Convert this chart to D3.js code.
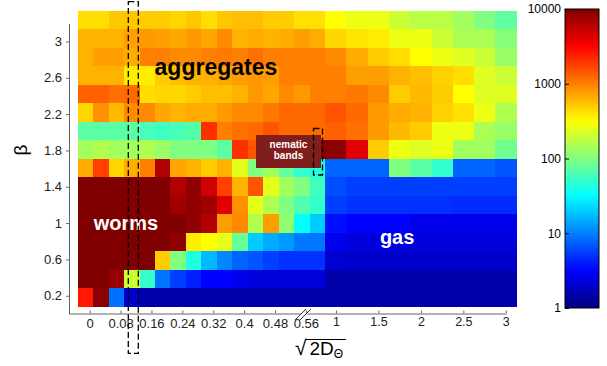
<!DOCTYPE html>
<html>
<head>
<meta charset="utf-8">
<script src="https://cdn.jsdelivr.net/npm/d3@7"></script>
<style>
  body { margin: 0; background: #fff; }
  svg { display: block; font-family: "Liberation Sans", Arial, Helvetica, sans-serif; }
</style>
</head>
<body>
<svg id="chart" width="607" height="366"></svg>
<script>
// rows, top to bottom
const betas = [3.2, 3.0, 2.8, 2.6, 2.4, 2.2, 2.0, 1.8, 1.6, 1.4, 1.2, 1.0, 0.8, 0.6, 0.4, 0.2];
// columns left of the axis break, then right of it
const dLeft = [0, 0.04, 0.08, 0.12, 0.16, 0.2, 0.24, 0.28, 0.32, 0.36, 0.4, 0.44, 0.48, 0.52, 0.56, 0.6];
const dRight = [1, 1.25, 1.5, 1.75, 2, 2.25, 2.5, 2.75, 3];

// counts per cell: 16 left columns then 9 right columns, one line per beta
const counts = [
  [427,427,525,525,501,501,457,525,427,525,562,562,501,501,417,417, 316,270,270,200,170,170,135,100,75],
  [631,631,631,759,794,759,708,794,708,912,631,676,631,676,759,676, 457,398,372,270,270,200,148,148,107],
  [631,759,759,676,1000,1000,912,912,1000,1072,1000,1148,1000,1000,1000,1000, 912,676,501,427,316,270,235,200,126],
  [631,631,631,372,372,501,562,631,631,708,759,794,759,1000,1000,1000, 1000,759,759,631,562,479,427,235,200],
  [1318,1318,1148,1215,427,457,457,501,562,562,631,794,708,912,794,1000, 1000,1072,912,501,589,501,316,235,235],
  [457,861,589,912,912,708,631,676,676,794,912,912,1072,1215,1215,1215, 1479,1215,794,676,631,479,417,270,155],
  [71,71,71,71,59,56,59,68,2042,1000,1148,1215,1479,1215,1215,1215, 1318,1148,794,589,501,270,270,148,126],
  [135,155,135,135,155,126,100,100,100,71,2042,1479,3162,5000,8000,9040, 9040,4169,501,270,235,270,135,135,87],
  [676,1778,457,676,1000,6457,708,631,501,631,251,100,135,75,49,42, 7.9,7.9,7.9,100,71,49,7.9,7.9,6.8],
  [10000,10000,10000,10000,10000,10000,6457,8630,4842,1778,631,1479,251,135,100,56, 6.4,5.6,5.6,5.6,5.6,5.6,5.6,5.6,5.6],
  [10000,10000,10000,10000,10000,10000,7413,8630,7413,4169,861,251,155,100,65,49, 5.6,4.9,4.9,4.9,4.9,4.9,4.7,4.7,4.7],
  [10000,10000,10000,10000,10000,10000,10000,8630,6457,759,912,155,759,116,32,20, 3.6,3.2,3.2,3.2,2.7,2.7,2.7,2.7,2.7],
  [10000,10000,10000,10000,10000,10000,8630,372,316,251,79,20,15,12.6,9.3,9.3, 2.7,2.3,2.3,2.3,2.3,2.3,2.3,2.3,2.3],
  [10000,10000,10000,10000,10000,501,100,42,17,10.7,7.9,6.8,5.6,4.9,4.9,4.9, 2.07,2,2,2,2,2,2,2,2],
  [10000,10000,7943,200,50,9,5.6,4.2,3.2,3.2,2.7,2.3,2.3,2.3,2.3,2.3, 1.48,1.48,1.48,1.48,1.48,1.48,1.48,1.48,1.48],
  [2512,9040,8.7,2,1.48,1.48,1.48,1.48,1.48,1.48,1.48,1.48,1.48,1.48,1.48,1.48, 1.48,1.48,1.48,1.48,1.48,1.48,1.48,1.48,1.48]
];

const yTicks = [0.2, 0.6, 1, 1.4, 1.8, 2.2, 2.6, 3];
const xTicksLeft = [0, 0.08, 0.16, 0.24, 0.32, 0.4, 0.48, 0.56];
const xTicksRight = [1, 1.5, 2, 2.5, 3];
const cbTicks = [1, 10, 100, 1000, 10000];

// matlab style jet colormap
function jet(t) {
  const c = v => Math.max(0, Math.min(1, v));
  const r = c(Math.min(4 * t - 1.5, -4 * t + 4.5));
  const g = c(Math.min(4 * t - 0.5, -4 * t + 3.5));
  const b = c(Math.min(4 * t + 0.5, -4 * t + 2.5));
  return d3.rgb(r * 255, g * 255, b * 255).formatHex();
}

const svg = d3.select('#chart');
const font = '"Liberation Sans", Arial, Helvetica, sans-serif';

const colorT = d3.scaleLog().domain([1, 10000]).range([0, 1]).clamp(true);
const color = v => jet(colorT(v));

// cell scales
const xBandL = d3.scaleBand().domain(dLeft).range([77.7, 325]);
const xBandR = d3.scaleBand().domain(dRight).range([325, 516.7]);
const yBand = d3.scaleBand().domain(betas).range([11, 306.7]);

// axis scales
const yAxisScale = d3.scaleLinear().domain([0, 3.2]).range([313.9, 23.3]);
const xL = d3.scaleLinear().domain([-0.0536, 0.5461]).range([69, 300.5]);
const xR = d3.scaleLinear().domain([0.6584, 3]).range([307, 505.8]);

const cells = [];
betas.forEach((b, i) => {
  dLeft.forEach((d, j) => cells.push({ beta: b, x: xBandL(d), w: xBandL.bandwidth(), v: counts[i][j] }));
  dRight.forEach((d, j) => cells.push({ beta: b, x: xBandR(d), w: xBandR.bandwidth(), v: counts[i][dLeft.length + j] }));
});

svg.append('g')
  .attr('shape-rendering', 'crispEdges')
  .selectAll('rect')
  .data(cells)
  .join('rect')
    .attr('x', d => d.x)
    .attr('y', d => yBand(d.beta))
    .attr('width', d => d.w + 0.4)
    .attr('height', yBand.bandwidth() + 0.4)
    .attr('fill', d => color(d.v));

// region labels
function regionLabel(text, x, y, size, fill) {
  svg.append('text')
    .attr('x', x).attr('y', y)
    .attr('text-anchor', 'middle')
    .attr('font-size', size)
    .attr('font-weight', 700)
    .attr('fill', fill)
    .text(text);
}
regionLabel('aggregates', xL(0.327), yAxisScale(2.63), 23, '#000');
regionLabel('worms', xL(0.094), yAxisScale(0.925), 20, '#fff');
regionLabel('gas', xR(1.72), yAxisScale(0.77), 20, '#fff');

// nematic bands tag
const nb = svg.append('g');
nb.append('rect')
  .attr('x', 256).attr('y', 135).attr('width', 65).attr('height', 33)
  .attr('fill', '#801d1d');
nb.append('text')
  .attr('x', 288.5).attr('y', 148.3)
  .attr('text-anchor', 'middle')
  .attr('font-size', 10).attr('font-weight', 700).attr('fill', '#fff')
  .text('nematic');
nb.append('text')
  .attr('x', 288.5).attr('y', 159.3)
  .attr('text-anchor', 'middle')
  .attr('font-size', 10).attr('font-weight', 700).attr('fill', '#fff')
  .text('bands');

// dashed boxes
svg.append('rect')
  .attr('x', 128.3).attr('y', 1.7).attr('width', 10).attr('height', 351.6)
  .attr('fill', 'none').attr('stroke', '#000').attr('stroke-width', 1.3)
  .attr('stroke-dasharray', '6,3');
svg.append('rect')
  .attr('x', 313.5).attr('y', 128.5).attr('width', 9).attr('height', 46.5)
  .attr('fill', 'none').attr('stroke', '#000').attr('stroke-width', 1.3)
  .attr('stroke-dasharray', '6,3');

// axes
function styleAxis(g) {
  g.select('.domain').attr('stroke', '#666');
  g.selectAll('.tick line').attr('stroke', '#666');
  g.selectAll('.tick text').attr('fill', '#222').attr('font-family', font);
}

svg.append('g')
  .attr('transform', 'translate(69,0)')
  .call(d3.axisLeft(yAxisScale).tickValues(yTicks).tickFormat(String)
    .tickSizeInner(3).tickSizeOuter(0).tickPadding(4))
  .attr('font-size', 13)
  .call(styleAxis);

svg.append('g')
  .attr('transform', 'translate(0,313.5)')
  .call(d3.axisBottom(xL).tickValues(xTicksLeft).tickFormat(String)
    .tickSizeInner(-3).tickSizeOuter(0).tickPadding(5))
  .attr('font-size', 13)
  .call(styleAxis);

svg.append('g')
  .attr('transform', 'translate(0,313.5)')
  .call(d3.axisBottom(xR).tickValues(xTicksRight).tickFormat(String)
    .tickSizeInner(-3).tickSizeOuter(0).tickPadding(4))
  .attr('font-size', 12.5)
  .call(styleAxis);

// axis break marks
svg.append('g')
  .attr('stroke', '#333').attr('stroke-width', 1)
  .selectAll('line')
  .data([0, 5])
  .join('line')
    .attr('x1', d => 295 + d).attr('y1', 320)
    .attr('x2', d => 306 + d).attr('y2', 309);

// axis titles
svg.append('text')
  .attr('transform', 'translate(27,150) rotate(-90)')
  .attr('text-anchor', 'middle')
  .attr('font-size', 19)
  .attr('fill', '#000')
  .text('β');

const xt = svg.append('g');
xt.append('text')
  .attr('x', 295).attr('y', 355)
  .attr('font-size', 21).attr('fill', '#000')
  .text('√');
xt.append('line')
  .attr('x1', 306).attr('x2', 346).attr('y1', 339.5).attr('y2', 339.5)
  .attr('stroke', '#000').attr('stroke-width', 1.1);
const xtt = xt.append('text')
  .attr('x', 309.5).attr('y', 354.5)
  .attr('font-size', 19).attr('fill', '#000');
xtt.append('tspan').text('2D');
xtt.append('tspan').attr('font-size', 12).attr('dy', 3).text('Θ');

// colorbar
const cbX = 565, cbW = 34;
const cbScale = d3.scaleLog().domain([1, 10000]).range([308, 9]);
const grad = svg.append('defs').append('linearGradient')
  .attr('id', 'jetgrad').attr('x1', 0).attr('y1', 1).attr('x2', 0).attr('y2', 0);
grad.selectAll('stop')
  .data(d3.range(0, 1.0001, 0.02))
  .join('stop')
    .attr('offset', d => d)
    .attr('stop-color', d => jet(d));
svg.append('rect')
  .attr('x', cbX).attr('y', cbScale(10000))
  .attr('width', cbW).attr('height', cbScale(1) - cbScale(10000))
  .attr('fill', 'url(#jetgrad)')
  .attr('stroke', '#000').attr('stroke-width', 1);

svg.append('g')
  .attr('transform', `translate(${cbX},0)`)
  .call(d3.axisLeft(cbScale).tickValues(cbTicks).tickFormat(String)
    .tickSizeInner(-4).tickSizeOuter(0).tickPadding(4))
  .attr('font-size', 12)
  .call(g => {
    g.select('.domain').remove();
    g.selectAll('.tick line').attr('stroke', '#000');
    g.selectAll('.tick text').attr('fill', '#000').attr('font-family', font);
  });
</script>
</body>
</html>
